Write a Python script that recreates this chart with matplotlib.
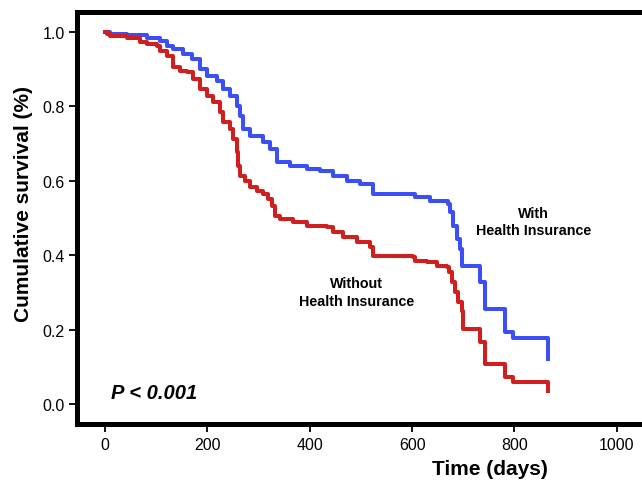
import numpy as np
import matplotlib
matplotlib.use('Agg')
import matplotlib.pyplot as plt

plt.rcParams['font.family'] = ['Liberation Sans', 'DejaVu Sans']

# Kaplan-Meier steps (days, cumulative survival)
ins_days = [0, 10, 43, 82, 107, 121, 133, 152, 170, 186, 199, 219, 231, 244, 258, 264, 270, 283, 309, 322,
            336, 362, 395, 420, 446, 473, 498, 524, 606, 635, 670, 674, 680, 688, 694, 698, 733, 743, 782, 797,
            866]
ins_surv = [1.0, 0.993, 0.991, 0.983, 0.974, 0.961, 0.953, 0.940, 0.926, 0.899, 0.881, 0.867, 0.846, 0.827,
            0.800, 0.773, 0.738, 0.719, 0.703, 0.685, 0.650, 0.639, 0.631, 0.626, 0.612, 0.599, 0.591, 0.564,
            0.556, 0.545, 0.537, 0.515, 0.478, 0.443, 0.416, 0.370, 0.328, 0.255, 0.193, 0.177, 0.121]

noins_days = [0, 4, 10, 43, 68, 82, 102, 107, 121, 133, 147, 160, 172, 186, 199, 211, 225, 231, 244, 250,
              258, 260, 264, 274, 283, 297, 309, 319, 326, 332, 342, 367, 395, 434, 446, 465, 492, 518, 524, 602,
              606, 629, 649, 668, 672, 678, 684, 690, 698, 699, 733, 743, 782, 797, 866]
noins_surv = [1.0, 0.993, 0.988, 0.983, 0.972, 0.966, 0.961, 0.948, 0.934, 0.905, 0.894, 0.891, 0.872, 0.846,
              0.826, 0.812, 0.784, 0.757, 0.738, 0.711, 0.677, 0.639, 0.612, 0.599, 0.583, 0.572, 0.564, 0.550,
              0.532, 0.505, 0.497, 0.489, 0.478, 0.475, 0.462, 0.448, 0.435, 0.421, 0.397, 0.395, 0.384, 0.381,
              0.370, 0.368, 0.354, 0.328, 0.301, 0.274, 0.250, 0.201, 0.166, 0.107, 0.072, 0.059, 0.035]

xticks = [0, 200, 400, 600, 800, 1000]
yticks = [0.0, 0.2, 0.4, 0.6, 0.8, 1.0]

fig = plt.figure(figsize=(6.42, 4.81), dpi=100)
ax = fig.add_axes([77/642, 1 - 424.5/481, 569/642, 412/481])

ax.step(ins_days, ins_surv, where='post', color='#3b4ff5', lw=2.9)
ax.step(noins_days, noins_surv, where='post', color='#cf1f1f', lw=2.9)

ax.set_xlim(-54.7, 1057)
ax.set_ylim(-0.052, 1.054)
ax.set_xticks(xticks)
ax.set_yticks(yticks)
ax.set_yticklabels(['%.1f' % v for v in yticks])
ax.tick_params(direction='out', length=6, width=1.3, labelsize=11.5, pad=3)
ax.tick_params(axis='x', pad=4)
for s in ax.spines.values():
    s.set_linewidth(3.6)
ax.spines['right'].set_visible(False)

ax.set_xlabel('Time (days)', fontsize=15, fontweight='bold')
ax.xaxis.set_label_coords(0.725, -0.087)
ax.set_ylabel('Cumulative survival (%)', fontsize=15, fontweight='bold')
ax.yaxis.set_label_coords(-0.077, 0.535)

ax.text(837, 0.491, 'With\nHealth Insurance', ha='center', va='center', fontsize=10.3,
        fontweight='bold', linespacing=1.3)
ax.text(491, 0.301, 'Without\nHealth Insurance', ha='center', va='center', fontsize=10.3,
        fontweight='bold', linespacing=1.3)
ax.text(12, 0.03, 'P < 0.001', fontsize=14.5, fontweight='bold', fontstyle='italic', va='center')

plt.savefig('out.png', dpi=100)
